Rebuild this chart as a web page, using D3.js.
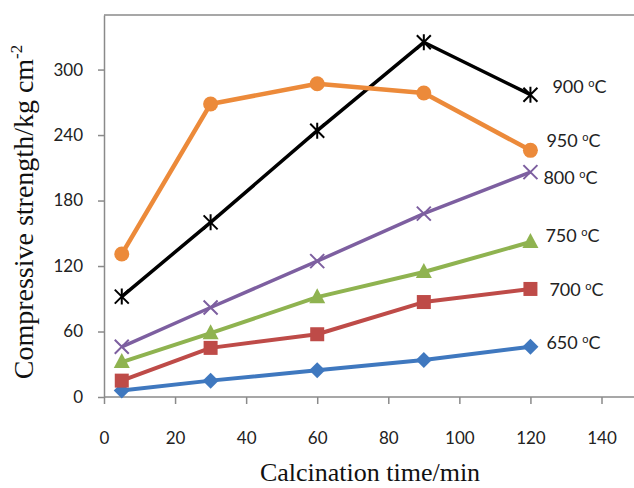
<!DOCTYPE html>
<html>
<head>
<meta charset="utf-8">
<script src="https://cdn.jsdelivr.net/npm/d3@7"></script>
<style>
  body { margin: 0; background: #fff; }
</style>
</head>
<body>
<script>
const width = 634;
const height = 488;

// data
const times = [5, 30, 60, 90, 120];
const seriesNames = ["650", "700", "750", "800", "900", "950"];
const s650 = [6, 15, 24.5, 34, 46];
const s700 = [15, 45, 57.5, 87, 99];
const s750 = [32, 58.5, 91.5, 114.5, 142];
const s800 = [46, 82, 124.5, 168, 206];
const s900 = [92, 160, 244, 325, 277];
const s950 = [131, 268.5, 287, 278.5, 226];
const xTicks = [0, 20, 40, 60, 80, 100, 120, 140];
const yTicks = [0, 60, 120, 180, 240, 300];

const allSeries = [s650, s700, s750, s800, s900, s950];

// styling per series
const colors = ["#3f78bf", "#be4b48", "#8fb350", "#7d5fa0", "#000000", "#ec8a3a"];
const markers = ["diamond", "square", "triangle", "x", "star", "circle"];
const lineWidths = [4, 4, 4, 3.5, 3.5, 4.5];
const labelDx = [16, 19, 15, 13, 22, 16];
const labelDy = [2, 7, 0, 12, -2, -3];

const xScale = d3.scaleLinear().domain([0, 140]).range([104, 601.5]);
const yScale = d3.scaleLinear().domain([0, 350]).range([397, 15]);

const svg = d3.select("body").append("svg")
    .attr("width", width)
    .attr("height", height);

const axisColor = "#8a8a8a";

// frame: top line
svg.append("line")
    .attr("x1", xScale(0)).attr("x2", width)
    .attr("y1", yScale(350)).attr("y2", yScale(350))
    .attr("stroke", axisColor).attr("stroke-width", 1.5);

// y axis
const yAxis = svg.append("g")
    .attr("transform", `translate(${xScale(0)},0)`)
    .call(d3.axisLeft(yScale).tickValues(yTicks).tickSize(6).tickSizeOuter(0).tickPadding(15));
yAxis.select(".domain").attr("stroke", axisColor).attr("stroke-width", 1.5);
yAxis.selectAll(".tick line").attr("stroke", axisColor).attr("stroke-width", 1.5);
yAxis.selectAll(".tick text")
    .attr("font-family", "Lato, 'Open Sans', sans-serif")
    .attr("font-size", 17)
    .attr("fill", "#222");

// x axis
const xAxis = svg.append("g")
    .attr("transform", `translate(0,${yScale(0)})`)
    .call(d3.axisBottom(xScale).tickValues(xTicks).tickSize(7).tickSizeOuter(0).tickPadding(28));
xAxis.select(".domain").remove();
xAxis.selectAll(".tick line").attr("stroke", axisColor).attr("stroke-width", 1.5);
xAxis.selectAll(".tick text")
    .attr("font-family", "Lato, 'Open Sans', sans-serif")
    .attr("font-size", 17)
    .attr("fill", "#222");

svg.append("line")
    .attr("x1", xScale(0)).attr("x2", width)
    .attr("y1", yScale(0)).attr("y2", yScale(0))
    .attr("stroke", axisColor).attr("stroke-width", 1.5);

// axis titles
svg.append("text")
    .attr("x", 370)
    .attr("y", 481)
    .attr("text-anchor", "middle")
    .attr("font-family", "'Liberation Serif', 'Times New Roman', serif")
    .attr("font-size", 26)
    .attr("fill", "#111")
    .text("Calcination time/min");

const yTitle = svg.append("text")
    .attr("transform", "translate(33,212) rotate(-90)")
    .attr("text-anchor", "middle")
    .attr("font-family", "'Liberation Serif', 'Times New Roman', serif")
    .attr("font-size", 28)
    .attr("fill", "#111");
yTitle.append("tspan").text("Compressive strength/kg cm");
yTitle.append("tspan").attr("font-size", 17).attr("dy", -11).text("-2");

// lines
const line = d3.line()
    .x((d, i) => xScale(times[i]))
    .y(d => yScale(d));

allSeries.forEach((vals, k) => {
  const g = svg.append("g");
  g.append("path")
      .attr("d", line(vals))
      .attr("fill", "none")
      .attr("stroke", colors[k])
      .attr("stroke-width", lineWidths[k])
      .attr("stroke-linejoin", "round");

  const pts = g.selectAll(".pt")
      .data(vals)
      .enter()
      .append("g")
      .attr("transform", (d, i) => `translate(${xScale(times[i])},${yScale(d)})`);

  const m = markers[k];
  if (m === "diamond") {
    pts.append("path").attr("d", "M0,-8L8,0L0,8L-8,0Z").attr("fill", colors[k]);
  } else if (m === "square") {
    pts.append("rect").attr("x", -7).attr("y", -7).attr("width", 14).attr("height", 14).attr("fill", colors[k]);
  } else if (m === "triangle") {
    pts.append("path").attr("d", "M0,-9L8,6L-8,6Z").attr("fill", colors[k]);
  } else if (m === "x") {
    pts.append("path").attr("d", "M-7,-7L7,7M-7,7L7,-7")
        .attr("stroke", colors[k]).attr("stroke-width", 2).attr("fill", "none");
  } else if (m === "star") {
    pts.append("path").attr("d", "M-7,-7L7,7M-7,7L7,-7M0,-8L0,8")
        .attr("stroke", colors[k]).attr("stroke-width", 2).attr("fill", "none");
  } else {
    pts.append("circle").attr("r", 7.5).attr("fill", colors[k]);
  }

  // end label
  const last = vals.length - 1;
  const lab = svg.append("text")
      .attr("x", xScale(times[last]) + labelDx[k])
      .attr("y", yScale(vals[last]) + labelDy[k])
      .attr("font-family", "Lato, 'Open Sans', sans-serif")
      .attr("font-size", 18)
      .attr("fill", "#222");
  lab.append("tspan").text(seriesNames[k] + " ");
  lab.append("tspan").attr("font-size", 11).attr("dy", -6).text("o");
  lab.append("tspan").attr("dy", 6).text("C");
});
</script>
</body>
</html>
